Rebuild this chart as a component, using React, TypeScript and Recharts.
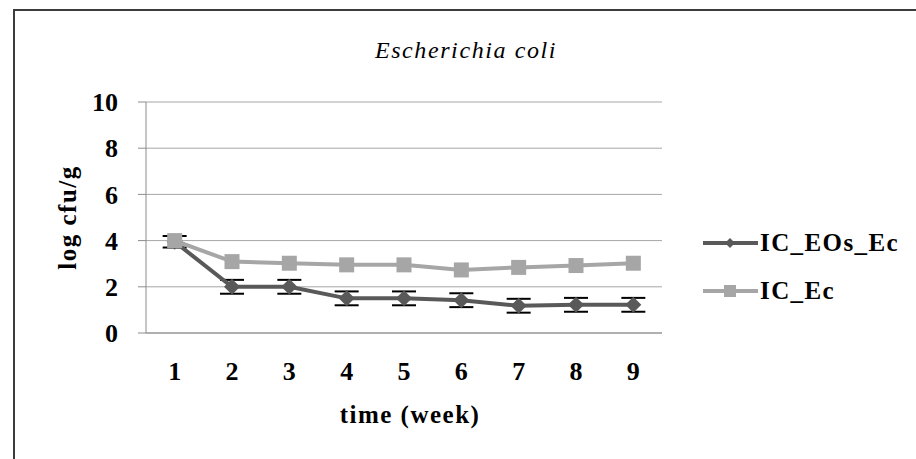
import React from "react";
import {
  LineChart,
  Line,
  XAxis,
  YAxis,
  CartesianGrid,
  Legend,
  ErrorBar,
} from "recharts";

// ---- Data ----

const weeks = [1, 2, 3, 4, 5, 6, 7, 8, 9];
const icEOsEc = [3.95, 2.0, 2.0, 1.5, 1.5, 1.42, 1.18, 1.22, 1.22];
const icEOsEcErr = [0.25, 0.3, 0.3, 0.3, 0.3, 0.3, 0.3, 0.3, 0.3];
const icEc = [4.0, 3.09, 3.02, 2.95, 2.95, 2.73, 2.84, 2.92, 3.02];
const yTicks = [0, 2, 4, 6, 8, 10];
const weekBounds = [...weeks.map((w) => w - 0.5), weeks[weeks.length - 1] + 0.5];

const data = weeks.map((w, i) => ({
  week: w,
  IC_EOs_Ec: icEOsEc[i],
  err: icEOsEcErr[i],
  IC_Ec: icEc[i],
}));

// ---- Style ----

const FONT = "'Liberation Serif', 'Times New Roman', serif";
const DARK = "#595959";
const LIGHT = "#a6a6a6";
const AXIS = "#8c8c8c";

const tickStyle = { fontFamily: FONT, fontSize: 26, fontWeight: 700, fill: "#000" };

function Diamond(props: any) {
  const { cx, cy, index } = props;
  if (cx == null || cy == null) return null;
  const r = 8;
  return (
    <polygon
      key={`d-${index}`}
      points={`${cx},${cy - r} ${cx + r},${cy} ${cx},${cy + r} ${cx - r},${cy}`}
      fill={DARK}
    />
  );
}

function Square(props: any) {
  const { cx, cy, index } = props;
  if (cx == null || cy == null) return null;
  const s = 15;
  return <rect key={`s-${index}`} x={cx - s / 2} y={cy - s / 2} width={s} height={s} fill={LIGHT} />;
}

const legendItems = [
  { name: "IC_EOs_Ec", color: DARK, marker: "diamond" },
  { name: "IC_Ec", color: LIGHT, marker: "square" },
];

function LegendContent() {
  return (
    <div>
      {legendItems.map((it) => (
        <div key={it.name} style={{ display: "flex", alignItems: "center", height: 48 }}>
          <svg width={56} height={20} style={{ display: "block" }}>
            <line x1={0} y1={10} x2={55} y2={10} stroke={it.color} strokeWidth={4} />
            {it.marker === "diamond" ? (
              <polygon points="27,5 32,10 27,15 22,10" fill={it.color} />
            ) : (
              <rect x={21} y={4} width={12} height={12} fill={it.color} />
            )}
          </svg>
          <span
            style={{
              fontFamily: FONT,
              fontSize: 25,
              fontWeight: 700,
              letterSpacing: 1.4,
              color: "#000",
              marginLeft: 1,
            }}
          >
            {it.name}
          </span>
        </div>
      ))}
    </div>
  );
}

export default function App() {
  return (
    <div style={{ position: "absolute", left: 0, top: 0, width: 916, height: 459, overflow: "hidden", background: "#fff" }}>
      <div
        style={{
          position: "absolute",
          left: 13,
          top: 9,
          width: 940,
          height: 480,
          border: "2px solid #3c3c3c",
          boxSizing: "border-box",
        }}
      />
      <div style={{ position: "absolute", left: 0, top: 0 }}>
        <LineChart width={916} height={459} data={data} margin={{ top: 102, right: 254, bottom: 0, left: 0 }}>
          <CartesianGrid horizontal vertical={false} stroke={LIGHT} strokeWidth={1} />
          <XAxis
            xAxisId="bounds"
            type="number"
            dataKey="week"
            domain={[0.5, 9.5]}
            ticks={weekBounds}
            tick={false}
            tickSize={8}
            height={1}
            axisLine={{ stroke: AXIS, strokeWidth: 1 }}
            tickLine={{ stroke: AXIS, strokeWidth: 1 }}
          />
          <XAxis
            xAxisId="main"
            type="number"
            dataKey="week"
            domain={[0.5, 9.5]}
            ticks={weeks}
            interval={0}
            height={125}
            axisLine={false}
            tickLine={false}
            tickSize={8}
            tickMargin={19.5}
            tick={tickStyle}
            label={{
              content: (p: any) => {
                const vb = p.viewBox || {};
                return (
                  <text
                    x={vb.x + vb.width / 2 + 6}
                    y={423}
                    textAnchor="middle"
                    style={{ fontFamily: FONT, fontSize: 25, fontWeight: 700, letterSpacing: 1.5 }}
                    fill="#000"
                  >
                    time (week)
                  </text>
                );
              },
            }}
          />
          <YAxis
            domain={[0, 10]}
            ticks={yTicks}
            width={146}
            tickSize={8}
            tickMargin={20}
            tick={tickStyle}
            axisLine={{ stroke: AXIS, strokeWidth: 1 }}
            tickLine={{ stroke: AXIS, strokeWidth: 1 }}
            label={{
              content: (p: any) => {
                const vb = p.viewBox || {};
                const cy = vb.y + vb.height / 2;
                return (
                  <text
                    x={76}
                    y={cy}
                    transform={`rotate(-90, 76, ${cy})`}
                    textAnchor="middle"
                    style={{ fontFamily: FONT, fontSize: 25, fontWeight: 700, letterSpacing: 1.5 }}
                    fill="#000"
                  >
                    log cfu/g
                  </text>
                );
              },
            }}
          />
          <Legend
            layout="vertical"
            align="center"
            verticalAlign="middle"
            content={<LegendContent />}
            wrapperStyle={{ position: "absolute", left: 703, top: 219, width: 213 }}
          />
          <Line
            xAxisId="main"
            dataKey="IC_EOs_Ec"
            name="IC_EOs_Ec"
            stroke={DARK}
            strokeWidth={4}
            dot={Diamond}
            activeDot={false}
            isAnimationActive={false}
          >
            <ErrorBar dataKey="err" width={12} stroke="#000" strokeWidth={2} direction="y" />
          </Line>
          <Line
            xAxisId="main"
            dataKey="IC_Ec"
            name="IC_Ec"
            stroke={LIGHT}
            strokeWidth={4}
            dot={Square}
            activeDot={false}
            isAnimationActive={false}
          />
        </LineChart>
      </div>
      <svg width={916} height={459} style={{ position: "absolute", left: 0, top: 0, pointerEvents: "none" }}>
        <text
          x={466}
          y={58}
          textAnchor="middle"
          style={{ fontFamily: FONT, fontSize: 24, fontStyle: "italic", letterSpacing: 1.6 }}
          fill="#000"
        >
          Escherichia coli
        </text>
      </svg>
    </div>
  );
}
